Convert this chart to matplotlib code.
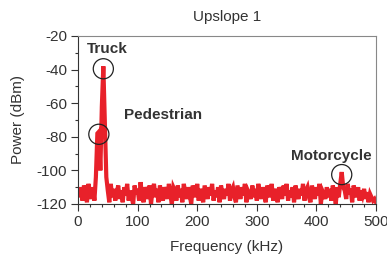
import matplotlib
matplotlib.use("Agg")
import matplotlib.pyplot as plt
import numpy as np

plt.rcParams['font.family'] = ['Liberation Sans', 'DejaVu Sans']
plt.rcParams['axes.unicode_minus'] = False

freq_step = 2.5
power = [
    -112,-116,-110,-118,-109,-114,-119,-108,-113,-117,
    -110,-118,-104,-78,-77,-100,-62,-38,-70,-104,
    -112,-119,-108,-116,-111,-118,-113,-109,-117,-112,
    -119,-110,-115,-108,-118,-112,-116,-120,-109,-114,
    -111,-118,-107,-115,-119,-110,-113,-117,-109,-120,
    -112,-108,-116,-111,-119,-109,-114,-118,-110,-113,
    -117,-108,-115,-120,-110,-112,-118,-109,-116,-111,
    -119,-108,-113,-117,-110,-115,-120,-109,-112,-116,
    -108,-118,-111,-114,-119,-109,-113,-117,-110,-115,
    -108,-118,-112,-116,-110,-119,-109,-114,-117,-111,
    -115,-108,-118,-112,-110,-116,-119,-109,-113,-117,
    -110,-115,-108,-119,-112,-114,-117,-109,-116,-111,
    -118,-108,-113,-117,-110,-115,-119,-109,-112,-116,
    -108,-118,-111,-114,-119,-110,-113,-117,-109,-115,
    -108,-118,-112,-116,-110,-119,-109,-114,-117,-111,
    -115,-108,-118,-112,-110,-116,-119,-109,-113,-117,
    -110,-115,-108,-120,-112,-114,-117,-110,-116,-111,
    -118,-109,-113,-120,-110,-116,-108,-101,-110,-112,
    -117,-108,-114,-111,-119,-109,-113,-116,-110,-118,
    -112,-115,-111,-117,-113,-119,-114,-116,-118,-117,
    -119,
]
freq = np.arange(len(power)) * freq_step

labels = ["Truck", "Pedestrian", "Motorcycle"]
label_xy = [(48.7, -27.7), (142.6, -67.0), (424.5, -91.4)]
circle_idx = [17, 14, 177]

fig = plt.figure(figsize=(3.87, 2.62), dpi=100)
ax = fig.add_axes([78/387, 1-204/262, (376-78)/387, (204-36)/262])

ax.plot(freq, power, color='#e8212a', lw=3.0, solid_joinstyle='miter')

pw = np.array(power)
ax.scatter(freq[circle_idx], pw[circle_idx] - 1.5, s=210, facecolors='none',
           edgecolors='#222222', linewidths=0.9, zorder=5)

for t, (x, y) in zip(labels, label_xy):
    ax.text(x, y, t, ha='center', va='center', fontsize=11, fontweight='bold', color='#333333')

ax.set_xlim(0, 500)
ax.set_ylim(-120, -20)
ax.set_xticks([0, 100, 200, 300, 400, 500])
ax.set_xticks(np.arange(0, 501, 20), minor=True)
ax.set_yticks([-120, -100, -80, -60, -40, -20])
ax.set_yticks(np.arange(-120, -19, 10), minor=True)
ax.tick_params(axis='both', which='major', direction='out', length=5, width=0.8,
               colors='#333333', labelsize=11, pad=3)
ax.tick_params(axis='both', which='minor', direction='out', length=2.5, width=0.8, colors='#333333')

for s in ['left', 'bottom']:
    ax.spines[s].set_color('#333333')
    ax.spines[s].set_linewidth(0.8)
for s in ['top', 'right']:
    ax.spines[s].set_color('#888888')
    ax.spines[s].set_linewidth(0.8)

ax.set_title("Upslope 1", fontsize=11, color='#333333', pad=11)
ax.set_xlabel("Frequency (kHz)", fontsize=11, color='#333333', labelpad=8)
ax.set_ylabel("Power (dBm)", fontsize=11, color='#333333', labelpad=8)

fig.savefig("out.png", dpi=100)
